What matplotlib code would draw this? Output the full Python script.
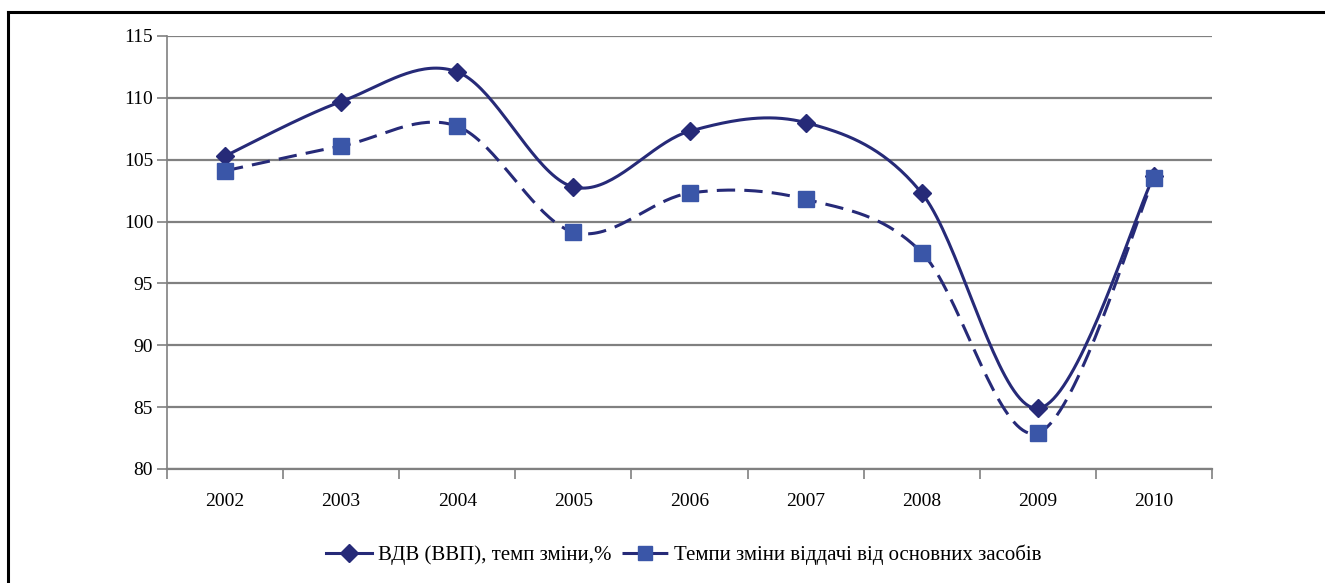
import numpy as np
import matplotlib
matplotlib.use("Agg")
import matplotlib.pyplot as plt
from matplotlib.lines import Line2D

years = ["2002", "2003", "2004", "2005", "2006", "2007", "2008", "2009", "2010"]
vdv = [105.3, 109.7, 112.1, 102.8, 107.3, 108.0, 102.3, 84.9, 103.7]
fixed_assets = [104.1, 106.1, 107.7, 99.15, 102.3, 101.8, 97.5, 82.9, 103.5]
label_vdv = "ВДВ (ВВП), темп зміни,%"
label_fa = "Темпи зміни віддачі від основних засобів"

yticks = [80, 85, 90, 95, 100, 105, 110, 115]

navy = "#262A78"
blue = "#3A56A8"
grid_c = "#808080"

plt.rcParams['font.family'] = ['Liberation Serif', 'DejaVu Serif']


def smooth(xs, ys, n=40):
    xs = np.asarray(xs, float)
    ys = np.asarray(ys, float)
    px = np.concatenate([[xs[0]], xs, [xs[-1]]])
    py = np.concatenate([[ys[0]], ys, [ys[-1]]])
    ox, oy = [], []
    t = np.linspace(0, 1, n)
    for i in range(1, len(px) - 2):
        p0 = np.array([px[i], py[i]])
        p3 = np.array([px[i + 1], py[i + 1]])
        p1 = p0 + (np.array([px[i + 1], py[i + 1]]) - np.array([px[i - 1], py[i - 1]])) / 6
        p2 = p3 - (np.array([px[i + 2], py[i + 2]]) - np.array([px[i], py[i]])) / 6
        b = ((1 - t) ** 3)[:, None] * p0 + (3 * (1 - t) ** 2 * t)[:, None] * p1 + \
            (3 * (1 - t) * t ** 2)[:, None] * p2 + (t ** 3)[:, None] * p3
        ox.extend(b[:, 0])
        oy.extend(b[:, 1])
    return np.array(ox), np.array(oy)


fig = plt.figure(figsize=(13.25, 5.83), dpi=100)
ax = fig.add_axes([167 / 1325, 1 - 469 / 583, (1212 - 167) / 1325, (469 - 36) / 583])

x = np.arange(len(years))

sx, sy = smooth(x, vdv)
ax.plot(sx, sy, color=navy, lw=2.2, zorder=3, solid_capstyle='butt')
ax.plot(x, vdv, linestyle='none', marker='D', markersize=9, color=navy, zorder=4)

sx2, sy2 = smooth(x, fixed_assets)
ax.plot(sx2, sy2, color=navy, lw=2.2, dashes=[6, 3], zorder=3)
ax.plot(x, fixed_assets, linestyle='none', marker='s', markersize=11, color=blue,
        markeredgecolor=blue, zorder=4)

ax.set_xlim(-0.5, len(years) - 0.5)
ax.set_ylim(80, 115)
ax.set_yticks(yticks)
ax.set_yticklabels([str(v) for v in yticks], fontsize=14)
ax.set_xticks(np.arange(-0.5, len(years), 1.0))
ax.set_xticklabels([])
ax.set_xticks(x, minor=True)
ax.set_xticklabels(years, minor=True, fontsize=14)
ax.tick_params(axis='x', which='minor', length=0, pad=17)
ax.tick_params(axis='x', which='major', length=7, width=1.2, color=grid_c)
ax.tick_params(axis='y', length=7, width=1.2, color=grid_c, pad=3)

ax.grid(axis='y', color=grid_c, lw=1.6)
ax.set_axisbelow(True)
for s in ['top', 'right']:
    ax.spines[s].set_visible(False)
ax.spines['left'].set_color(grid_c)
ax.spines['left'].set_linewidth(1.2)
ax.spines['bottom'].set_color(grid_c)
ax.spines['bottom'].set_linewidth(1.6)

h1 = Line2D([], [], color=navy, lw=2.2, marker='D', markersize=9, markerfacecolor=navy,
            markeredgecolor=navy)
h2 = Line2D([], [], color=navy, lw=2.2, dashes=[6, 3], marker='s', markersize=10,
            markerfacecolor=blue, markeredgecolor=blue)
fig.legend([h1, h2], [label_vdv, label_fa], loc='center', bbox_to_anchor=(0.516, 1 - 555 / 583),
           ncol=2, frameon=False, fontsize=15, handlelength=2.2, columnspacing=0.5,
           handletextpad=0.3)

# outer frame
fig.add_artist(Line2D([8 / 1325, 8 / 1325], [0, 1 - 12 / 583], color='black', lw=2.2,
                      transform=fig.transFigure))
fig.add_artist(Line2D([8 / 1325, 1], [1 - 12 / 583, 1 - 12 / 583], color='black', lw=2.2,
                      transform=fig.transFigure))

fig.savefig("out.png", dpi=100)
